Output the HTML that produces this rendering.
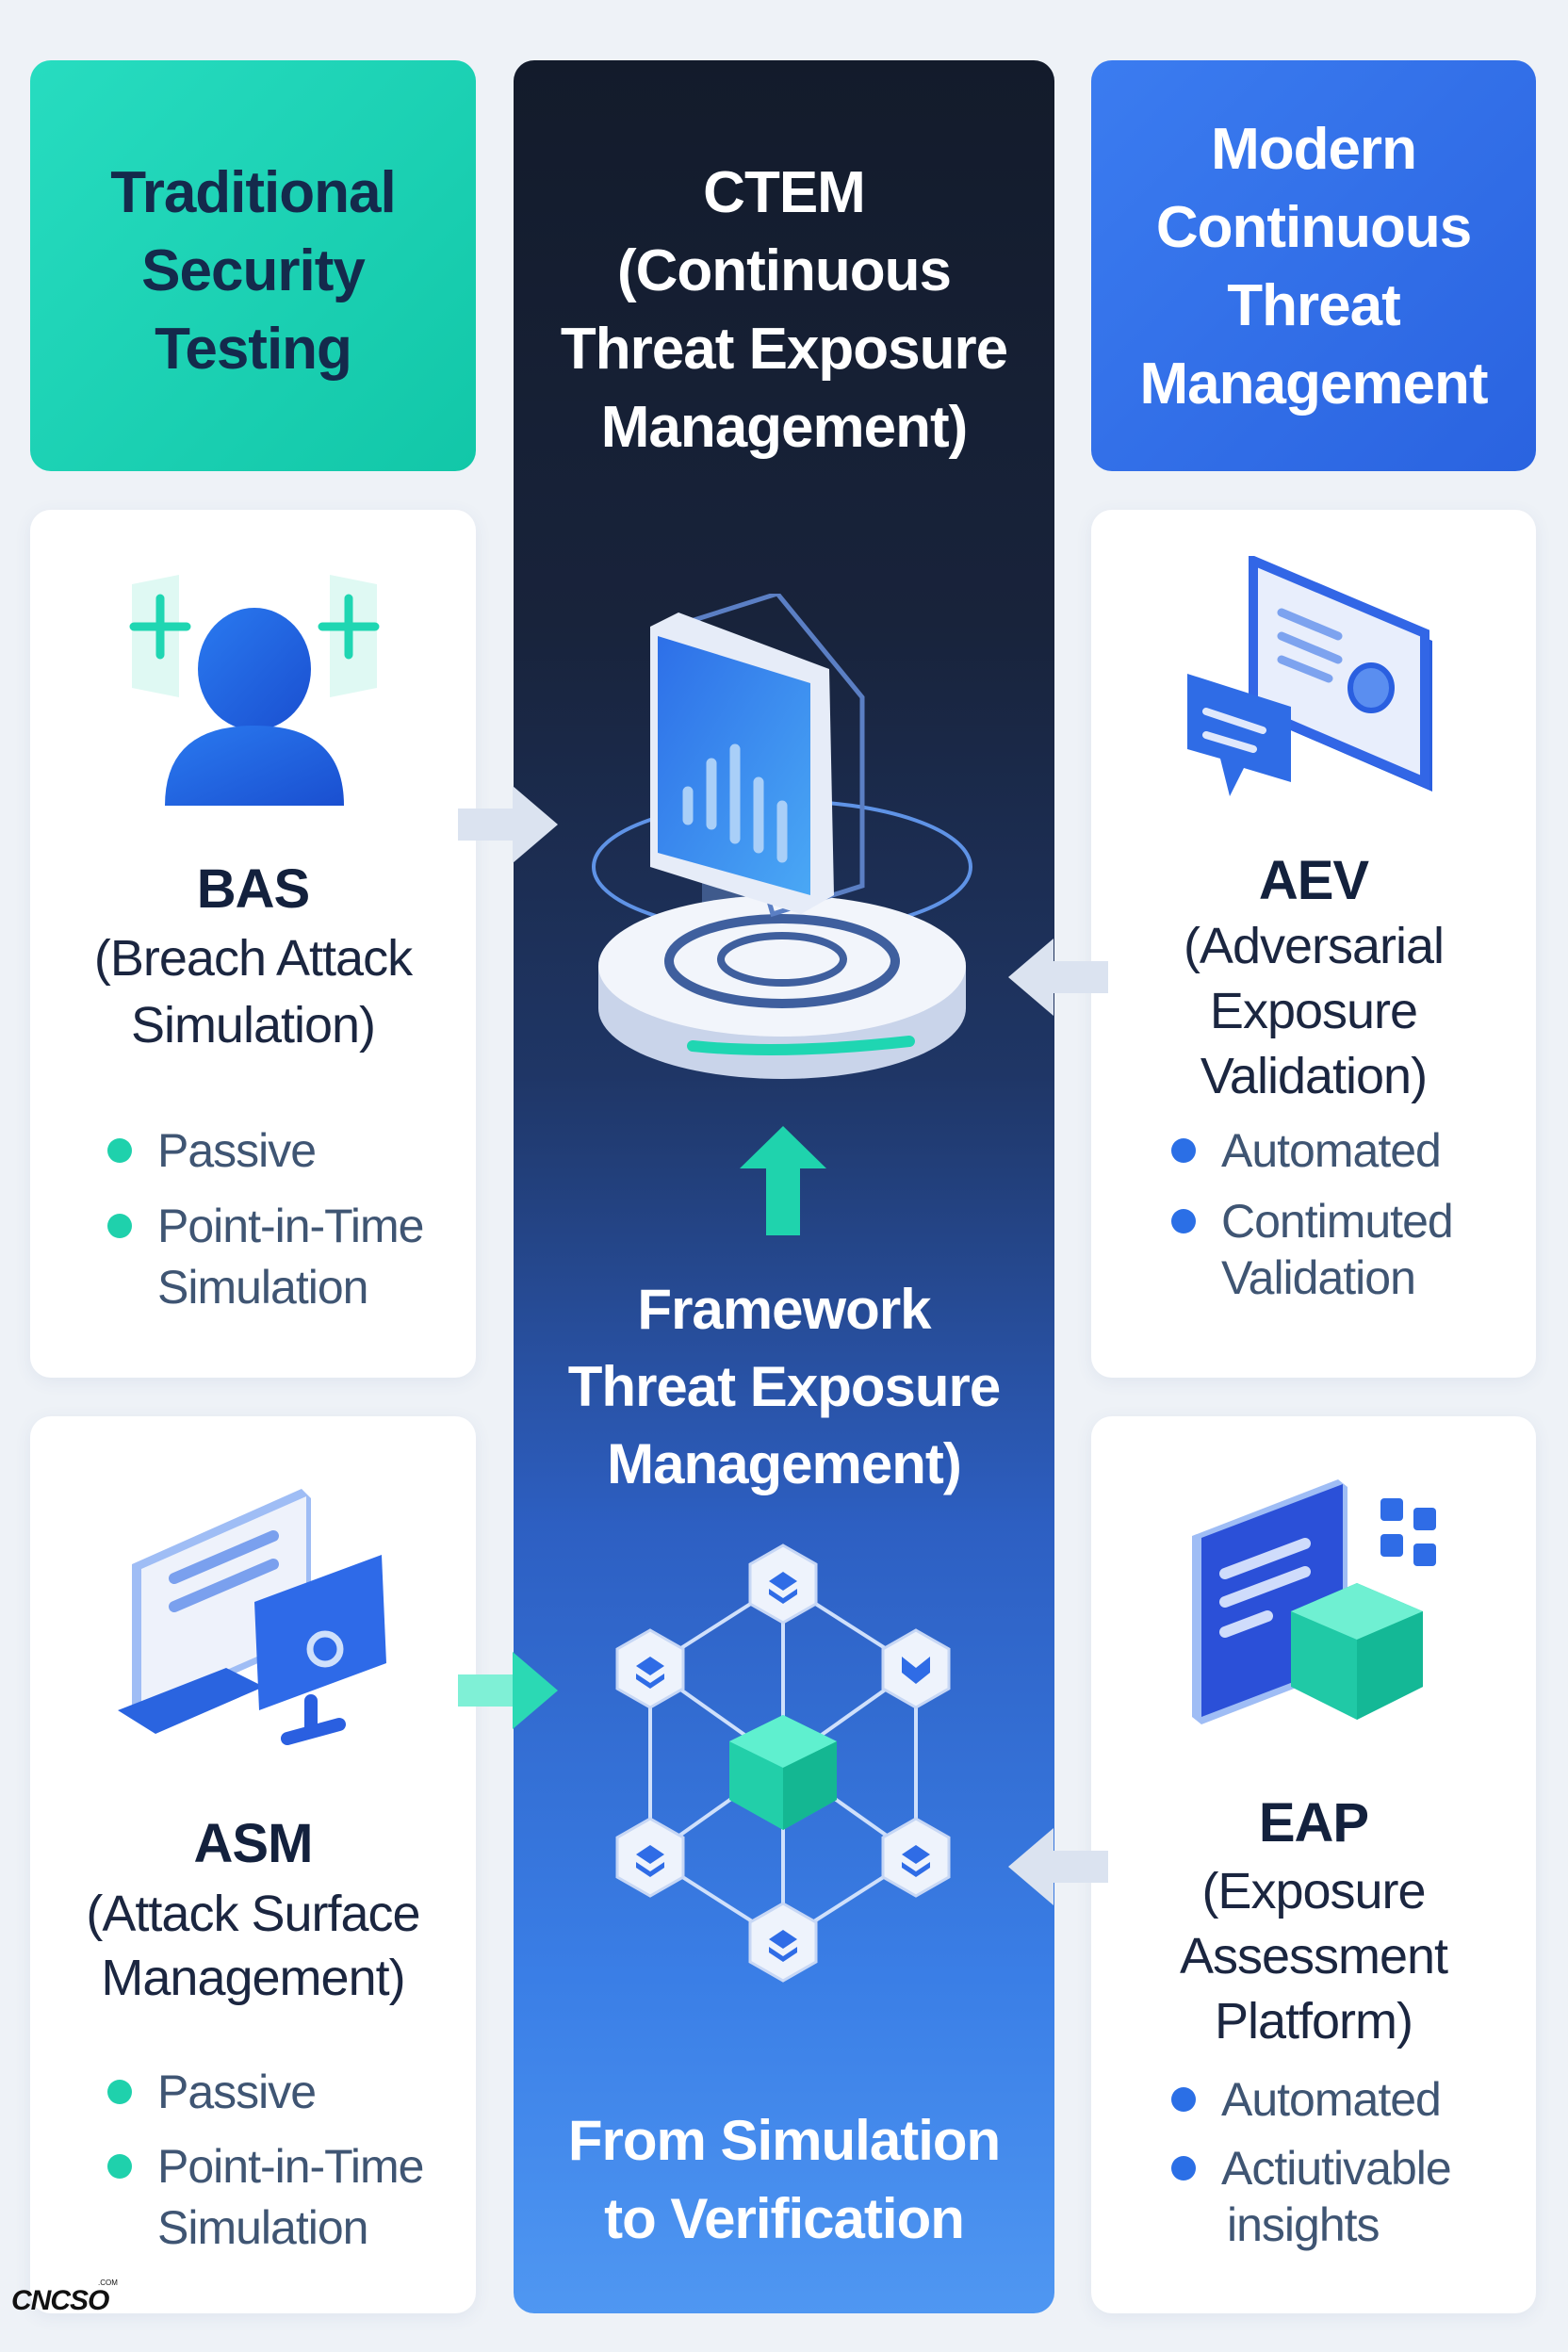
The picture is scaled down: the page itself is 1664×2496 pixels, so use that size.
<!DOCTYPE html>
<html><head><meta charset="utf-8"><style>
*{margin:0;padding:0;box-sizing:border-box}
body{width:1664px;height:2496px;background:#eef2f7;position:relative;overflow:hidden;font-family:"Liberation Sans",sans-serif}
.box{position:absolute;border-radius:22px}
.card{background:#fff;box-shadow:0 4px 18px rgba(60,90,140,0.08)}
.t{position:absolute;text-align:center;white-space:nowrap;letter-spacing:-1px}
.b{font-weight:bold}
.li{position:absolute;white-space:nowrap;font-size:50px;color:#3f5573;letter-spacing:-1px;line-height:60px}
.dot{position:absolute;width:26px;height:26px;border-radius:50%}
</style></head><body>

<!-- headers -->
<div class="box" style="left:32px;top:64px;width:473px;height:436px;background:linear-gradient(135deg,#27dcc0,#12c7a8)"></div>
<div class="box" style="left:545px;top:64px;width:574px;height:2391px;background:linear-gradient(180deg,#131b2b 0%,#18233b 25%,#1f3666 45%,#2d5fc2 65%,#3a7ee6 85%,#4f97f2 100%)"></div>
<div class="box" style="left:1158px;top:64px;width:472px;height:436px;background:linear-gradient(135deg,#3b7cf0,#2a63e0)"></div>

<div class="t b" style="left:32px;width:473px;top:163px;font-size:62px;line-height:83px;color:#142a4c">Traditional<br>Security<br>Testing</div>
<div class="t b" style="left:545px;width:574px;top:163px;font-size:62px;line-height:83px;color:#fff">CTEM<br>(Continuous<br>Threat Exposure<br>Management)</div>
<div class="t b" style="left:1158px;width:472px;top:117px;font-size:62px;line-height:83px;color:#fff">Modern<br>Continuous<br>Threat<br>Management</div>

<!-- cards -->
<div class="box card" style="left:32px;top:541px;width:473px;height:921px"></div>
<div class="box card" style="left:1158px;top:541px;width:472px;height:921px"></div>
<div class="box card" style="left:32px;top:1503px;width:473px;height:952px"></div>
<div class="box card" style="left:1158px;top:1503px;width:472px;height:952px"></div>

<!-- BAS icon -->
<svg style="position:absolute;left:130px;top:600px" width="280" height="270" viewBox="0 0 280 270">
<defs><linearGradient id="pg" x1="0" y1="0" x2="1" y2="1"><stop offset="0" stop-color="#2a7af0"/><stop offset="1" stop-color="#1a4fd0"/></linearGradient></defs>
<path d="M10 20 L60 10 L60 140 L10 130Z" fill="#d7f7f0" opacity="0.8"/>
<path d="M270 20 L220 10 L220 140 L270 130Z" fill="#d7f7f0" opacity="0.8"/>
<path d="M40 35 V95 M12 65 H68" stroke="#1fd6b2" stroke-width="9" stroke-linecap="round"/>
<path d="M240 35 V95 M212 65 H268" stroke="#1fd6b2" stroke-width="9" stroke-linecap="round"/>
<ellipse cx="140" cy="110" rx="60" ry="65" fill="url(#pg)"/>
<path d="M45 255 Q45 170 140 170 Q235 170 235 255Z" fill="url(#pg)"/>
</svg>

<div class="t b" style="left:32px;width:473px;top:910px;font-size:58px;line-height:68px;color:#13213d">BAS</div>
<div class="t" style="left:32px;width:473px;top:982px;font-size:54px;line-height:71px;color:#1b2640">(Breach Attack<br>Simulation)</div>
<div class="dot" style="left:114px;top:1208px;background:#1fd1ac"></div>
<div class="li" style="left:167px;top:1191px">Passive</div>
<div class="dot" style="left:114px;top:1288px;background:#1fd1ac"></div>
<div class="li" style="left:167px;top:1271px">Point-in-Time<br><span style="line-height:70px">Simulation</span></div>

<!-- AEV icon -->
<svg style="position:absolute;left:1250px;top:590px" width="290" height="280" viewBox="0 0 290 280">
<path d="M85 10 L270 90 L270 250 L85 170Z" fill="#2a5fe0"/>
<path d="M80 5 L262 82 L262 240 L80 162Z" fill="#e8eefc" stroke="#3266e6" stroke-width="10"/>
<path d="M110 60 L170 85 M110 85 L170 110 M110 110 L160 130" stroke="#7da3ef" stroke-width="9" stroke-linecap="round"/>
<ellipse cx="205" cy="140" rx="22" ry="24" fill="#5a8ef0" stroke="#2a5fe0" stroke-width="6"/>
<path d="M10 125 L120 160 L120 240 L70 225 L55 255 L45 215 L10 205Z" fill="#2f6ce6"/>
<path d="M30 165 L90 185 M30 190 L80 205" stroke="#dfe8fc" stroke-width="8" stroke-linecap="round"/>
</svg>

<div class="t b" style="left:1158px;width:472px;top:901px;font-size:58px;line-height:68px;color:#13213d">AEV</div>
<div class="t" style="left:1158px;width:472px;top:970px;font-size:54px;line-height:69px;color:#1b2640">(Adversarial<br>Exposure<br>Validation)</div>
<div class="dot" style="left:1243px;top:1208px;background:#2b6fe6"></div>
<div class="li" style="left:1296px;top:1191px">Automated</div>
<div class="dot" style="left:1243px;top:1283px;background:#2b6fe6"></div>
<div class="li" style="left:1296px;top:1266px">Contimuted<br><span>Validation</span></div>

<!-- ASM icon -->
<svg style="position:absolute;left:120px;top:1560px" width="310" height="310" viewBox="0 0 310 310">
<path d="M20 100 L200 20 L210 30 L210 180 L30 260 L20 250Z" fill="#9fbdf5"/>
<path d="M30 105 L205 28 L205 175 L30 252Z" fill="#eef2fb"/>
<path d="M65 115 L170 70 M65 145 L170 100" stroke="#7aa0ee" stroke-width="12" stroke-linecap="round"/>
<path d="M5 255 L120 210 L160 230 L45 280Z" fill="#2a64e0"/>
<path d="M150 140 L285 90 L290 205 L155 255Z" fill="#2e6ae8"/>
<circle cx="225" cy="190" r="16" fill="none" stroke="#cfe0fb" stroke-width="7"/>
<path d="M210 245 L210 275 M185 285 L240 270" stroke="#2a5fe0" stroke-width="14" stroke-linecap="round"/>
</svg>

<div class="t b" style="left:32px;width:473px;top:1923px;font-size:58px;line-height:68px;color:#13213d">ASM</div>
<div class="t" style="left:32px;width:473px;top:1997px;font-size:54px;line-height:68px;color:#1b2640">(Attack Surface<br>Management)</div>
<div class="dot" style="left:114px;top:2207px;background:#1fd1ac"></div>
<div class="li" style="left:167px;top:2190px">Passive</div>
<div class="dot" style="left:114px;top:2286px;background:#1fd1ac"></div>
<div class="li" style="left:167px;top:2269px">Point-in-Time<br><span style="line-height:70px">Simulation</span></div>

<!-- EAP icon -->
<svg style="position:absolute;left:1255px;top:1560px" width="300" height="310" viewBox="0 0 300 310">
<path d="M10 70 L165 10 L175 18 L175 210 L20 270 L10 262Z" fill="#9fbdf5"/>
<path d="M20 72 L170 15 L170 205 L20 262Z" fill="#2b50d8"/>
<path d="M45 110 L130 78 M45 140 L130 108 M45 172 L90 155" stroke="#cfdcfb" stroke-width="12" stroke-linecap="round"/>
<rect x="210" y="30" width="24" height="24" rx="4" fill="#2f6ce6"/><rect x="245" y="40" width="24" height="24" rx="4" fill="#2f6ce6"/>
<rect x="210" y="68" width="24" height="24" rx="4" fill="#2f6ce6"/><rect x="245" y="78" width="24" height="24" rx="4" fill="#2f6ce6"/>
<path d="M115 150 L185 120 L255 150 L255 230 L185 265 L115 230Z" fill="#20c9a6"/>
<path d="M115 150 L185 120 L255 150 L185 180Z" fill="#6ff0d2"/>
<path d="M185 180 L255 150 L255 230 L185 265Z" fill="#14b896"/>
</svg>

<div class="t b" style="left:1158px;width:472px;top:1901px;font-size:58px;line-height:68px;color:#13213d">EAP</div>
<div class="t" style="left:1158px;width:472px;top:1973px;font-size:54px;line-height:69px;color:#1b2640">(Exposure<br>Assessment<br>Platform)</div>
<div class="dot" style="left:1243px;top:2215px;background:#2b6fe6"></div>
<div class="li" style="left:1296px;top:2198px">Automated</div>
<div class="dot" style="left:1243px;top:2288px;background:#2b6fe6"></div>
<div class="li" style="left:1296px;top:2271px">Actiutivable<br><span style="margin-left:6px">insights</span></div>

<!-- middle icon 1 -->
<svg style="position:absolute;left:620px;top:630px" width="430" height="520" viewBox="0 0 430 520">
<defs><linearGradient id="sc" x1="0" y1="0" x2="1" y2="1"><stop offset="0" stop-color="#2d6fe8"/><stop offset="1" stop-color="#4aa8f5"/></linearGradient></defs>
<ellipse cx="210" cy="290" rx="200" ry="70" fill="none" stroke="#5f93e6" stroke-width="4"/>
<rect x="125" y="250" width="70" height="150" fill="#3f5a8c"/>
<ellipse cx="210" cy="440" rx="195" ry="75" fill="#c9d4ea"/>
<rect x="15" y="395" width="390" height="45" fill="#c9d4ea"/>
<ellipse cx="210" cy="395" rx="195" ry="75" fill="#f2f5fb"/>
<ellipse cx="210" cy="390" rx="120" ry="45" fill="none" stroke="#3f5f9e" stroke-width="10"/>
<ellipse cx="210" cy="388" rx="65" ry="25" fill="none" stroke="#3f5f9e" stroke-width="8"/>
<path d="M115 480 Q210 490 345 475" stroke="#1fd6b2" stroke-width="12" stroke-linecap="round" fill="none"/>
<path d="M110 30 L205 0 L295 110 L295 310 L200 340 Z" fill="none" stroke="#5b7fc4" stroke-width="5"/>
<path d="M70 35 L100 20 L260 80 L265 320 L230 340 L70 290Z" fill="#e6ecf8"/>
<path d="M78 45 L240 95 L240 320 L78 275Z" fill="url(#sc)"/>
<path d="M110 210 V240 M135 180 V245 M160 165 V260 M185 200 V270 M210 225 V280" stroke="#a9cff8" stroke-width="11" stroke-linecap="round"/>
</svg>

<!-- up arrow -->
<svg style="position:absolute;left:785px;top:1195px" width="92" height="116"><path d="M46 0 L92 45 L64 45 L64 116 L28 116 L28 45 L0 45Z" fill="#1fd3ad"/></svg>

<div class="t b" style="left:545px;width:574px;top:1349px;font-size:60px;line-height:82px;color:#fff">Framework<br>Threat Exposure<br>Management)</div>

<!-- network -->
<svg style="position:absolute;left:630px;top:1630px" width="400" height="500" viewBox="0 0 400 500">
<g stroke="#cfe0fb" stroke-width="4" fill="none">
<path d="M201 50 L60 140 L60 340 L201 430 L342 340 L342 140Z"/>
<path d="M201 50 V430 M60 140 L342 340 M342 140 L60 340"/>
</g>
<g fill="#eef3fc" stroke="#c7d7f5" stroke-width="3">
<path d="M201 10 L236 30 L236 72 L201 92 L166 72 L166 30Z"/>
<path d="M60 100 L95 120 L95 162 L60 182 L25 162 L25 120Z"/>
<path d="M342 100 L377 120 L377 162 L342 182 L307 162 L307 120Z"/>
<path d="M60 300 L95 320 L95 362 L60 382 L25 362 L25 320Z"/>
<path d="M342 300 L377 320 L377 362 L342 382 L307 362 L307 320Z"/>
<path d="M201 390 L236 410 L236 452 L201 472 L166 452 L166 410Z"/>
</g>
<g fill="#2f6ce6">
<path d="M201 38 L216 48 L201 58 L186 48Z"/><path d="M186 56 L201 66 L216 56 L216 62 L201 72 L186 62Z"/>
<path d="M60 128 L75 138 L60 148 L45 138Z"/><path d="M45 146 L60 156 L75 146 L75 152 L60 162 L45 152Z"/>
<path d="M327 128 L342 140 L357 128 L357 145 L342 157 L327 145Z"/>
<path d="M60 328 L75 338 L60 348 L45 338Z"/><path d="M45 346 L60 356 L75 346 L75 352 L60 362 L45 352Z"/>
<path d="M342 328 L357 338 L342 348 L327 338Z"/><path d="M327 346 L342 356 L357 346 L357 352 L342 362 L327 352Z"/>
<path d="M201 418 L216 428 L201 438 L186 428Z"/><path d="M186 436 L201 446 L216 436 L216 442 L201 452 L186 442Z"/>
</g>
<path d="M201 190 L258 218 L258 280 L201 312 L144 280 L144 218Z" fill="#22cfa9"/>
<path d="M144 218 L201 190 L258 218 L201 246Z" fill="#5ff0cf"/>
<path d="M201 246 L258 218 L258 280 L201 312Z" fill="#14b792"/>
</svg>

<div class="t b" style="left:545px;width:574px;top:2230px;font-size:60px;line-height:83px;color:#fff">From Simulation<br>to Verification</div>

<!-- side arrows -->
<svg style="position:absolute;left:486px;top:834px" width="108" height="82"><rect x="0" y="24" width="58" height="34" fill="#dbe3f0"/><path d="M58 0 L106 41 L58 82Z" fill="#dbe3f0"/></svg>
<svg style="position:absolute;left:486px;top:1753px" width="108" height="82"><rect x="0" y="24" width="58" height="34" fill="#7ff0d6"/><path d="M58 0 L106 41 L58 82Z" fill="#2bd9b4"/></svg>
<svg style="position:absolute;left:1068px;top:996px" width="108" height="82"><rect x="50" y="24" width="58" height="34" fill="#dbe3f0"/><path d="M50 0 L2 41 L50 82Z" fill="#dbe3f0"/></svg>
<svg style="position:absolute;left:1068px;top:1940px" width="108" height="82"><rect x="50" y="24" width="58" height="34" fill="#dbe3f0"/><path d="M50 0 L2 41 L50 82Z" fill="#dbe3f0"/></svg>

<!-- logo -->
<div style="position:absolute;left:12px;top:2425px;font-weight:bold;font-size:30px;color:#111;letter-spacing:-1px;font-style:italic">CNCSO</div>
<div style="position:absolute;left:104px;top:2418px;font-size:8px;color:#111">.COM</div>
</body></html>
